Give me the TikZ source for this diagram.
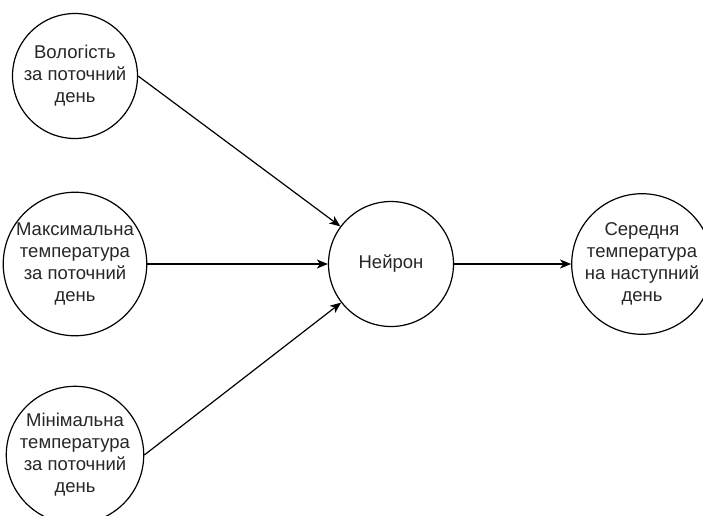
\documentclass[tikz,border=0pt]{standalone}
\usepackage{fontspec}
\setmainfont{Liberation Sans}
\usetikzlibrary{arrows.meta}
\begin{document}
\begin{tikzpicture}[x=1pt,y=-1pt,
  neuron/.style={circle,draw=black,line width=1.2pt,minimum size=125pt,inner sep=0pt,
    align=center,text=black!85,font=\fontsize{18.5}{22}\selectfont},
  link/.style={line width=1.2pt,-{Stealth[length=11pt,width=9pt,inset=3pt]}}]
\useasboundingbox (0,0) rectangle (703,515);
\node[neuron] (hum) at (75,76) {Вологість\\за поточний\\день};
\node[neuron] (tmax) at (75,264) {Максимальна\\температура\\за поточний\\день};
\node[neuron] (tmin) at (75,455) {Мінімальна\\температура\\за поточний\\день};
\node[neuron] (n) at (391,264) {Нейрон};
\node[neuron] (out) at (642,264) {Середня\\температура\\на наступний\\день};
\draw[link] (hum.east) -- (n);
\draw[link] (tmax.east) -- (n);
\draw[link] (tmin.east) -- (n);
\draw[link] (n) -- (out);
\end{tikzpicture}
\end{document}
